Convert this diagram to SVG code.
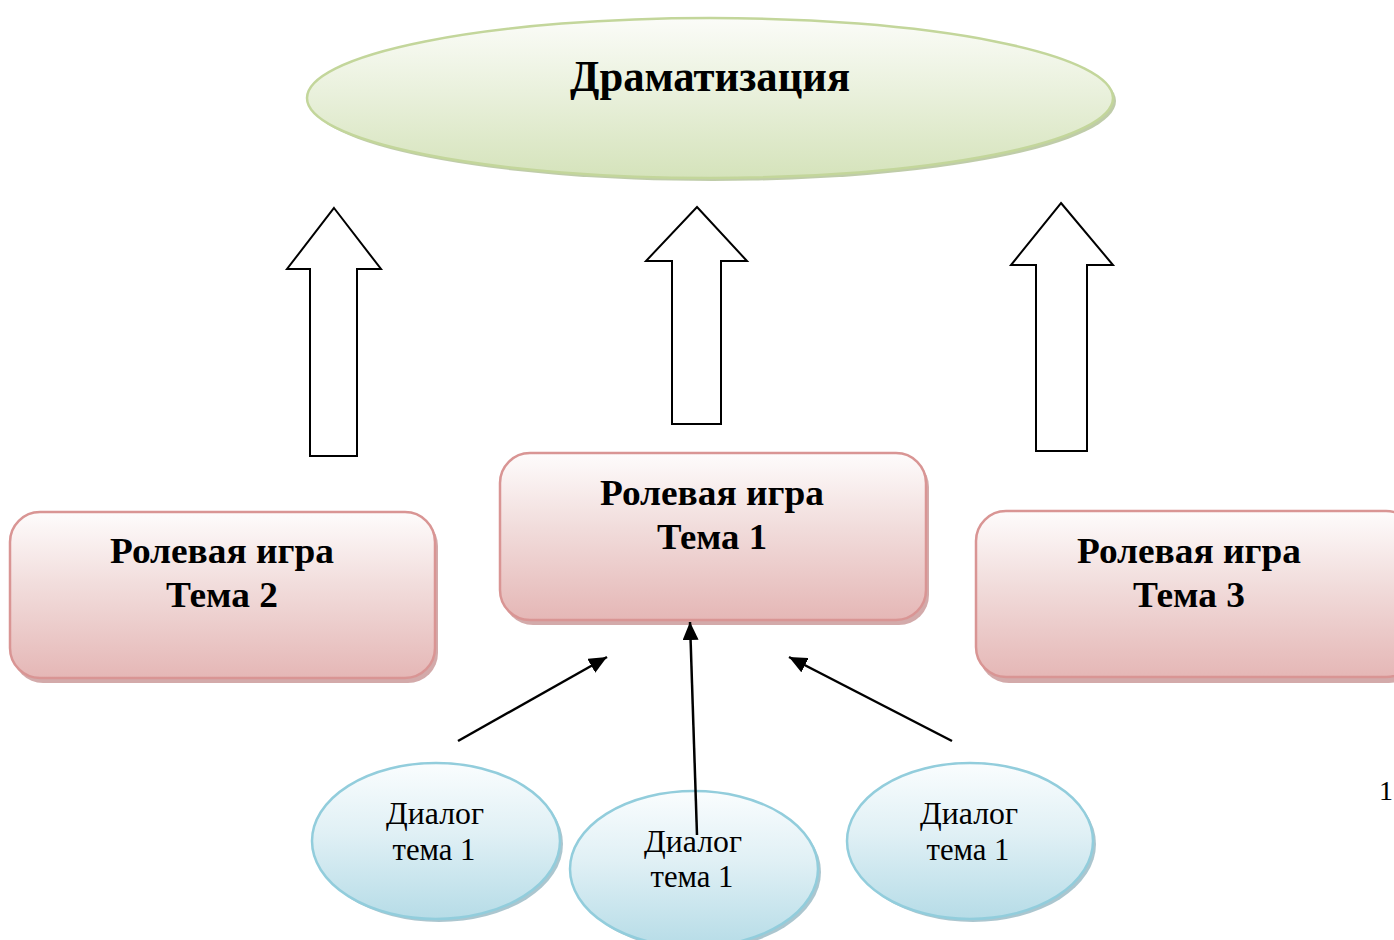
<svg xmlns="http://www.w3.org/2000/svg" width="1394" height="940" viewBox="0 0 1394 940">
<defs>
<linearGradient id="gGreen" x1="0" y1="0" x2="0" y2="1">
<stop offset="0" stop-color="#fbfcf8"/><stop offset="0.45" stop-color="#eaf1dd"/><stop offset="1" stop-color="#d5e3bb"/>
</linearGradient>
<linearGradient id="gPink" x1="0" y1="0" x2="0" y2="1">
<stop offset="0" stop-color="#fefcfc"/><stop offset="0.45" stop-color="#f1dcdb"/><stop offset="1" stop-color="#e5b7b6"/>
</linearGradient>
<linearGradient id="gBlue" x1="0" y1="0" x2="0" y2="1">
<stop offset="0" stop-color="#fafdfe"/><stop offset="0.45" stop-color="#e0f0f5"/><stop offset="1" stop-color="#b6dce7"/>
</linearGradient>
<marker id="ah" markerUnits="userSpaceOnUse" markerWidth="20" markerHeight="16" refX="18" refY="8" orient="auto">
<path d="M0,0 L18,8 L0,16 Z" fill="#000"/>
</marker>
<style>
.big{font-family:"Liberation Serif","Times New Roman",serif;font-weight:bold;fill:#000;text-anchor:middle}
.box{font-family:"Liberation Serif","Times New Roman",serif;font-weight:bold;font-size:35px;fill:#000;text-anchor:middle}
.dlg{font-family:"Liberation Serif","Times New Roman",serif;font-size:31px;fill:#000;text-anchor:middle}
.bigarrow{fill:#fff;stroke:#000;stroke-width:2;stroke-linejoin:miter}
.conn{stroke:#000;stroke-width:2.5;fill:none;marker-end:url(#ah)}
.shG{fill:#a9bb8c;opacity:0.75}
.shP{fill:#c48e8d;opacity:0.75}
.shB{fill:#8fb3bf;opacity:0.75}
</style>
</defs>
<rect width="1394" height="940" fill="#fff"/>

<g id="node-dramatization">
<ellipse class="shG" cx="713" cy="101" rx="403" ry="80"/>
<ellipse cx="710" cy="98" rx="403" ry="80" fill="url(#gGreen)" stroke="#c3d69b" stroke-width="2.5"/>
<text class="big" x="710" y="91" font-size="45" textLength="280" lengthAdjust="spacingAndGlyphs">Драматизация</text>
</g>

<g id="big-arrows">
<path id="arrow-left" class="bigarrow" d="M334,208 L381,269 L357,269 L357,456 L310,456 L310,269 L287,269 Z"/>
<path id="arrow-mid" class="bigarrow" d="M697,207 L747,261 L721,261 L721,424 L672,424 L672,261 L646,261 Z"/>
<path id="arrow-right" class="bigarrow" d="M1061,203 L1113,265 L1087,265 L1087,451 L1036,451 L1036,265 L1011,265 Z"/>
</g>

<g id="node-role2">
<rect class="shP" x="13" y="516" width="425" height="167" rx="30"/>
<rect x="10" y="512" width="425" height="166" rx="30" fill="url(#gPink)" stroke="#d99594" stroke-width="2.5"/>
<text class="box" x="222" y="563" textLength="224" lengthAdjust="spacingAndGlyphs">Ролевая игра</text>
<text class="box" x="222" y="607" textLength="112" lengthAdjust="spacingAndGlyphs">Тема 2</text>
</g>

<g id="node-role1">
<rect class="shP" x="503" y="457" width="426" height="168" rx="30"/>
<rect x="500" y="453" width="426" height="167" rx="30" fill="url(#gPink)" stroke="#d99594" stroke-width="2.5"/>
<text class="box" x="712" y="505" textLength="224" lengthAdjust="spacingAndGlyphs">Ролевая игра</text>
<text class="box" x="712" y="549" textLength="110" lengthAdjust="spacingAndGlyphs">Тема 1</text>
</g>

<g id="node-role3">
<rect class="shP" x="979" y="515" width="440" height="168" rx="30"/>
<rect x="976" y="511" width="440" height="166" rx="30" fill="url(#gPink)" stroke="#d99594" stroke-width="2.5"/>
<text class="box" x="1189" y="563" textLength="224" lengthAdjust="spacingAndGlyphs">Ролевая игра</text>
<text class="box" x="1189" y="607" textLength="112" lengthAdjust="spacingAndGlyphs">Тема 3</text>
</g>

<g id="node-dialog-left">
<ellipse class="shB" cx="439" cy="844" rx="124" ry="78"/>
<ellipse cx="436" cy="841" rx="124" ry="78" fill="url(#gBlue)" stroke="#92cddc" stroke-width="2.5"/>
<text class="dlg" x="435" y="824" textLength="98" lengthAdjust="spacingAndGlyphs">Диалог</text>
<text class="dlg" x="434" y="860" textLength="83" lengthAdjust="spacingAndGlyphs">тема 1</text>
</g>

<g id="node-dialog-mid">
<ellipse class="shB" cx="697" cy="872" rx="124" ry="78"/>
<ellipse cx="694" cy="869" rx="124" ry="78" fill="url(#gBlue)" stroke="#92cddc" stroke-width="2.5"/>
<text class="dlg" x="693" y="852" textLength="98" lengthAdjust="spacingAndGlyphs">Диалог</text>
<text class="dlg" x="692" y="887" textLength="83" lengthAdjust="spacingAndGlyphs">тема 1</text>
</g>

<g id="node-dialog-right">
<ellipse class="shB" cx="973" cy="844" rx="123" ry="78"/>
<ellipse cx="970" cy="841" rx="123" ry="78" fill="url(#gBlue)" stroke="#92cddc" stroke-width="2.5"/>
<text class="dlg" x="969" y="824" textLength="98" lengthAdjust="spacingAndGlyphs">Диалог</text>
<text class="dlg" x="968" y="860" textLength="83" lengthAdjust="spacingAndGlyphs">тема 1</text>
</g>

<g id="connectors">
<line class="conn" x1="458" y1="741" x2="607" y2="657"/>
<line class="conn" x1="697" y1="835" x2="690" y2="622"/>
<line class="conn" x1="952" y1="741" x2="789" y2="657"/>
</g>

<text x="1379" y="800" font-family="Liberation Serif, Times New Roman, serif" font-size="28" fill="#000">1</text>
</svg>
